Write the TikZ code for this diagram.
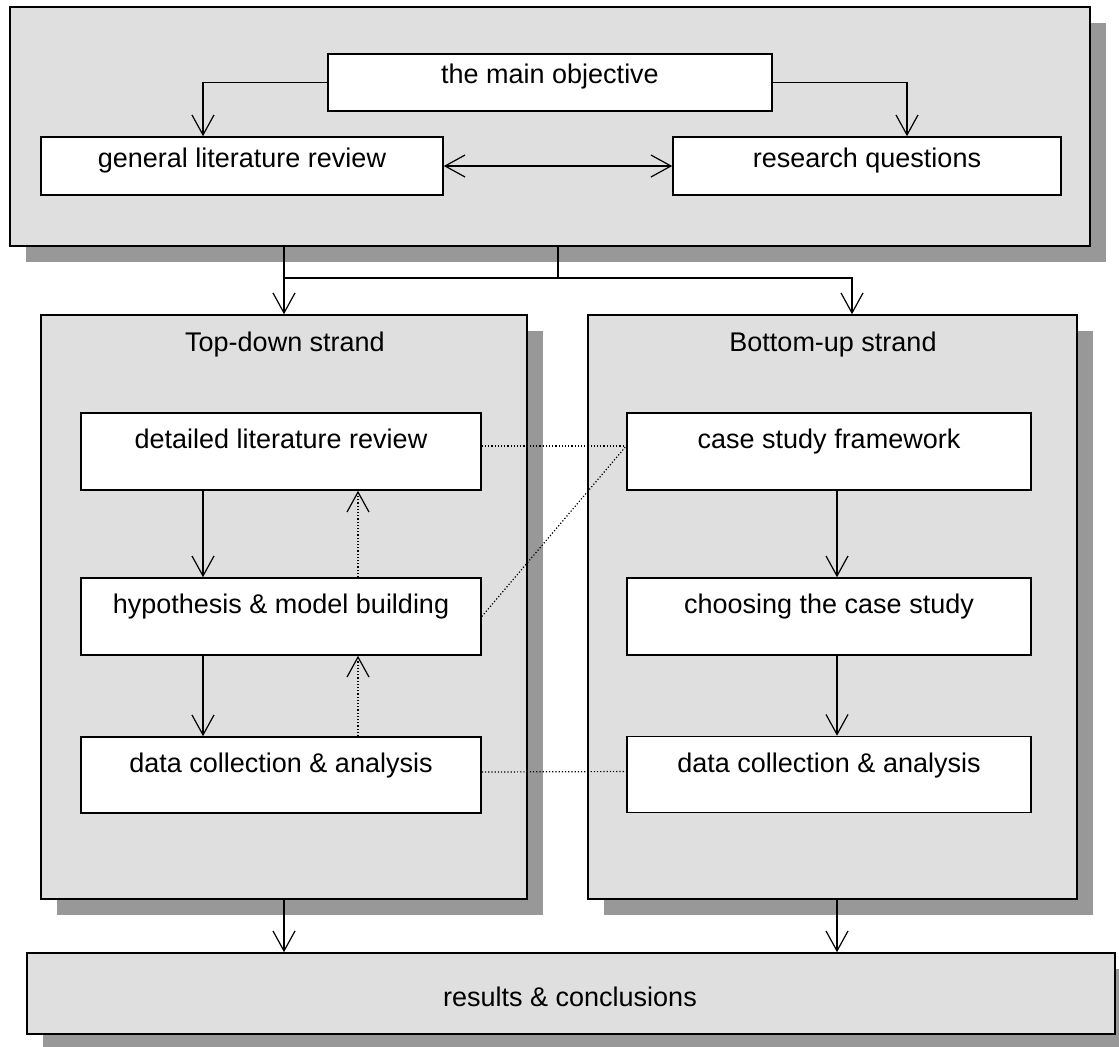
\documentclass[tikz,border=0pt]{standalone}
\usepackage{fontspec}
\setmainfont{Liberation Sans}
\usetikzlibrary{arrows.meta}
\definecolor{panelgray}{RGB}{223,223,223}
\definecolor{shadowgray}{RGB}{152,152,152}
\begin{document}
\begin{tikzpicture}[x=0.5pt,y=-0.5pt,
  panel/.style={draw=black, line width=0.8pt, fill=panelgray, inner sep=0pt,
    preaction={fill=shadowgray, draw=none, transform canvas={xshift=8pt,yshift=-8pt}}},
  box/.style={draw=black, line width=0.8pt, fill=white, inner sep=0pt},
  txt/.style={anchor=base, inner sep=0pt, font=\fontsize{13.5}{16}\selectfont},
  arr/.style={line width=0.6pt, -{Straight Barb[length=10pt,width=11pt]}},
  arrboth/.style={line width=0.6pt, {Straight Barb[length=10pt,width=11pt]}-{Straight Barb[length=10pt,width=11pt]}},
  link/.style={line width=0.6pt, densely dotted}
]
\useasboundingbox (0,0) rectangle (1119,1046);

% outer panels (with drop shadows)
\node[panel, minimum width=540pt, minimum height=119.5pt] (top) at (550,126.5) {};
\node[panel, minimum width=243pt, minimum height=292pt] (ts) at (284,607) {};
\node[panel, minimum width=244.5pt, minimum height=292pt] (bs) at (832.5,607) {};
\node[panel, minimum width=544pt, minimum height=40.5pt] (res) at (571,993.5) {};

% white boxes
\node[box, minimum width=222pt, minimum height=28.5pt] (mo) at (550,82.5) {};
\node[box, minimum width=201pt, minimum height=29pt] (glr) at (242,166) {};
\node[box, minimum width=194pt, minimum height=29pt] (rq) at (867,166) {};

\node[box, minimum width=200pt, minimum height=38.5pt] (dlr) at (281,451.5) {};
\node[box, minimum width=200pt, minimum height=38.5pt] (hyp) at (281,616.5) {};
\node[box, minimum width=200pt, minimum height=38pt] (dcl) at (281,775) {};

\node[box, minimum width=202pt, minimum height=38.5pt] (csf) at (829,451.5) {};
\node[box, minimum width=202pt, minimum height=38.5pt] (cho) at (829,616.5) {};
\node[box, minimum width=202pt, minimum height=38pt] (dcr) at (829,774.5) {};

% labels
\node[txt] (tmo) at (550,83) {the main objective};
\node[txt] (tglr) at (242,167) {general literature review};
\node[txt] (trq) at (867,167) {research questions};
\node[txt] (tts) at (285,351) {Top-down strand};
\node[txt] (tbs) at (833,351) {Bottom-up strand};
\node[txt] (tdlr) at (281,448) {detailed literature review};
\node[txt] (thyp) at (281,613) {hypothesis \& model building};
\node[txt] (tdcl) at (281,772) {data collection \& analysis};
\node[txt] (tcsf) at (829,448) {case study framework};
\node[txt] (tcho) at (829,613) {choosing the case study};
\node[txt] (tdcr) at (829,772) {data collection \& analysis};
\node[txt] (tres) at (570,1006) {results \& conclusions};

% top panel connectors
\draw[arr] (mo.west) -| ([xshift=-19.5pt]glr.north);
\draw[arr] (mo.east) -| ([xshift=20pt]rq.north);
\draw[arrboth] (glr.east) -- (rq.west);

% split into the two strands
\coordinate (hub) at (558,278);
\draw[line width=0.6pt] (top.south -| hub) -- (hub);
\draw[arr] (top.south -| ts.north) -- (ts.north);
\draw[arr] (hub -| ts.north) -| ([xshift=9.75pt]bs.north);

% strands into results
\draw[arr] (ts.south) -- (ts.south |- res.north);
\draw[arr] ([xshift=2.25pt]bs.south) -- ([xshift=2.25pt]bs.south |- res.north);

% top-down strand
\draw[arr] ([xshift=-39pt]dlr.south) -- ([xshift=-39pt]hyp.north);
\draw[arr] ([xshift=-39pt]hyp.south) -- ([xshift=-39pt]dcl.north);
\draw[arr, link] ([xshift=38.5pt]hyp.north) -- ([xshift=38.5pt]dlr.south);
\draw[arr, link] ([xshift=38.5pt]dcl.north) -- ([xshift=38.5pt]hyp.south);

% bottom-up strand
\draw[arr] ([xshift=4pt]csf.south) -- ([xshift=4pt]cho.north);
\draw[arr] ([xshift=4pt]cho.south) -- ([xshift=4pt]dcr.north);

% cross links between strands
\draw[link] ([yshift=2.75pt]dlr.east) -- ([yshift=2.75pt]csf.west);
\draw[link] (hyp.east) -- ([yshift=2.75pt]csf.west);
\draw[link] ([yshift=1.5pt]dcl.east) -- ([yshift=1.5pt]dcr.west);
\end{tikzpicture}
\end{document}
